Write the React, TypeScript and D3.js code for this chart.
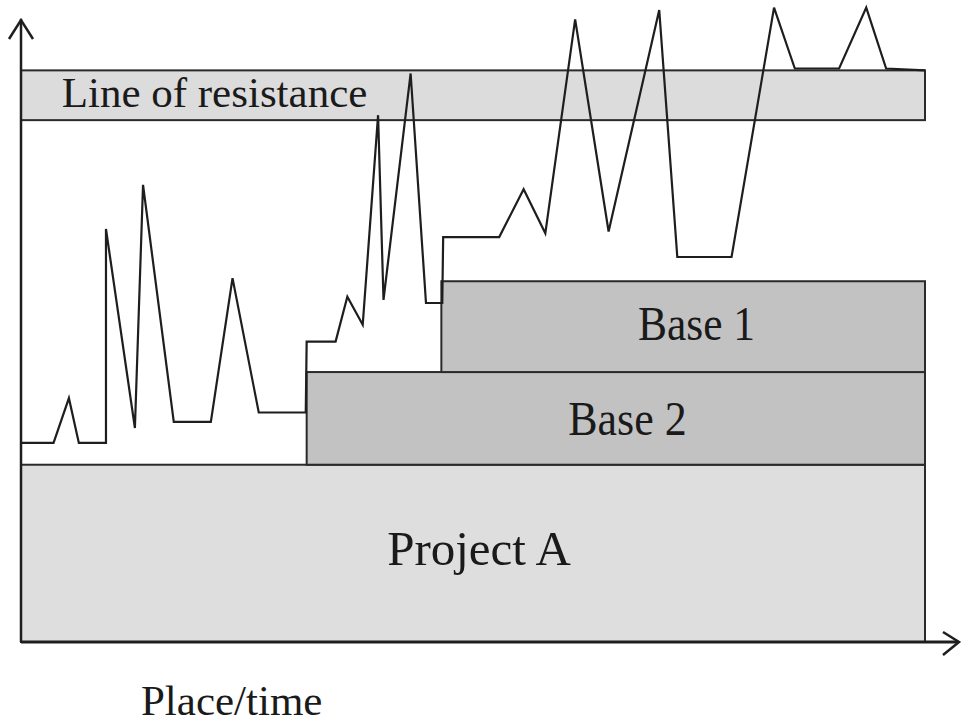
import React from "react";
import * as d3 from "d3";

const W = 961;
const H = 725;

// Place/time (x) and level (y) in chart units 0..100
const lineX = [0, 3.6, 5.3, 6.4, 9.4, 9.4, 12.6, 13.5, 16.9, 21.0, 23.4, 26.3, 31.5, 31.6, 34.8, 36.1, 37.8, 39.5, 40.1, 43.1, 44.8, 46.6, 46.7, 52.9, 55.6, 58.0, 61.3, 65.0, 70.6, 72.6, 78.6, 83.3, 85.6, 90.5, 93.5, 95.7, 100];
const lineY = [32.0, 32.0, 39.2, 32.0, 32.0, 66.4, 34.4, 73.5, 35.4, 35.4, 58.5, 36.9, 36.9, 48.3, 48.3, 55.5, 51.0, 84.7, 55.0, 91.4, 54.5, 54.5, 65.1, 65.1, 72.8, 65.7, 100.1, 66.0, 101.6, 61.9, 61.9, 102.0, 92.2, 92.2, 102.0, 92.2, 91.9];

const blockNames = ["Project A", "Base 2", "Base 1", "Line of resistance"];
const blockX0 = [0, 31.6, 46.5, 0];
const blockX1 = [100, 100, 100, 100];
const blockY0 = [0, 28.5, 43.4, 83.9];
const blockY1 = [28.5, 43.4, 58.0, 91.9];
const blockFill = ["#dedede", "#c2c2c2", "#c2c2c2", "#dcdcdc"];

const axisLabel = "Place/time";

export default function App() {
  const x = d3.scaleLinear().domain([0, 100]).range([21, 925]);
  const y = d3.scaleLinear().domain([0, 100]).range([642, 20]);
  const pts: [number, number][] = lineX.map((v, i) => [v, lineY[i]]);
  const path = d3
    .line<[number, number]>()
    .x((d) => x(d[0]))
    .y((d) => y(d[1]))(pts) as string;

  const font = "'Liberation Serif', 'Times New Roman', serif";

  const labelPos: { [k: string]: { x: number; y: number; size: number; anchor: string; sy: number } } = {
    "Project A": { x: 479, y: 565, size: 49, anchor: "middle", sy: 1 },
    "Base 2": { x: 627.5, y: 435, size: 44, anchor: "middle", sy: 1.1 },
    "Base 1": { x: 696.5, y: 340, size: 43.5, anchor: "middle", sy: 1.1 },
    "Line of resistance": { x: 61.7, y: 106.7, size: 43, anchor: "start", sy: 1 },
  };

  return (
    <svg
      width={W}
      height={H}
      style={{ position: "fixed", left: 0, top: 0, background: "#fff" }}
      fontFamily={font}
    >
      {blockNames.map((n, i) => (
        <rect
          key={n}
          x={x(blockX0[i])}
          y={y(blockY1[i])}
          width={x(blockX1[i]) - x(blockX0[i])}
          height={y(blockY0[i]) - y(blockY1[i])}
          fill={blockFill[i]}
          stroke="#2a2a2a"
          strokeWidth={2}
        />
      ))}
      {blockNames.map((n) => {
        const p = labelPos[n];
        return (
          <text
            key={"t" + n}
            x={p.x}
            y={p.y}
            fontSize={p.size}
            textAnchor={p.anchor as any}
            fill="#1a1a1a"
            transform={`translate(0 ${p.y}) scale(1 ${p.sy}) translate(0 ${-p.y})`}
          >
            {n}
          </text>
        );
      })}
      <path d={path} fill="none" stroke="#1e1e1e" strokeWidth={2.2} strokeLinejoin="miter" />
      {/* axes */}
      <line x1={x(0)} y1={y(0)} x2={x(0)} y2={19} stroke="#1e1e1e" strokeWidth={2.5} />
      <polyline points={`9,39 21,20 33,39`} fill="none" stroke="#1e1e1e" strokeWidth={2.5} />
      <line x1={x(0)} y1={y(0)} x2={958} y2={y(0)} stroke="#1e1e1e" strokeWidth={3} />
      <polyline points={`943,632 959,642 943,655`} fill="none" stroke="#1e1e1e" strokeWidth={2.5} />
      <text x={231.7} y={715} fontSize={43} textAnchor="middle" fill="#1a1a1a">
        {axisLabel}
      </text>
    </svg>
  );
}
